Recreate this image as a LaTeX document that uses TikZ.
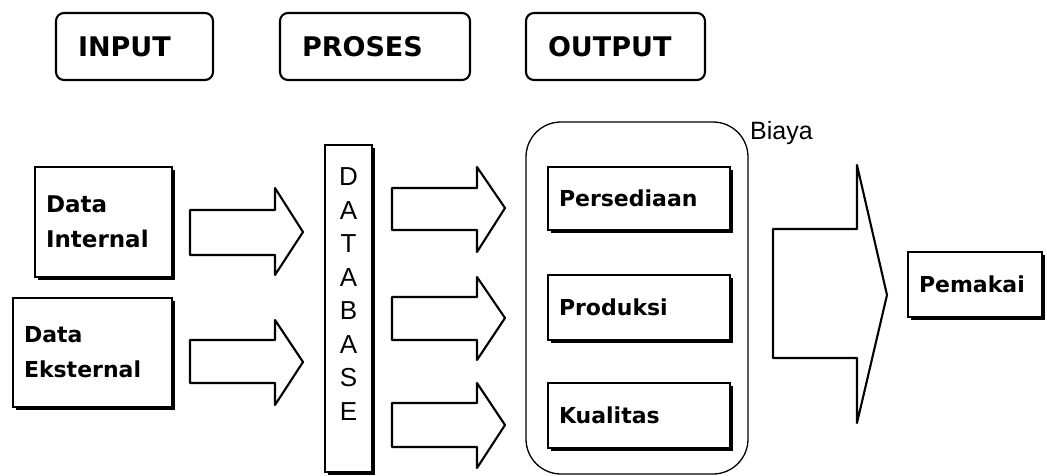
\documentclass[tikz,border=0pt]{standalone}
\usepackage{fontspec}
\setmainfont{DejaVu Sans}
\newfontfamily\arialf{Liberation Sans}
\begin{document}
\begin{tikzpicture}[x=1pt,y=-1pt,
  topbox/.style={draw, line width=2.1pt, rounded corners=8pt, minimum height=67pt,
    inner xsep=22pt, align=left, font=\bfseries\fontsize{27}{30}\selectfont},
  shbox/.style={draw, fill=white, line width=2.1pt, inner xsep=11pt, align=left,
    preaction={fill=black, transform canvas={shift={(3pt,-3pt)}}},
    font=\bfseries\fontsize{22}{35}\selectfont},
  blk/.style={draw, line width=2.1pt, line join=round, fill=white},
  cont/.style={draw, line width=1.3pt, rounded corners=35pt}
]
\useasboundingbox (0,0) rectangle (1047,476);

% top labels
\node[topbox, text width=113pt] (input) at (134.5,46.5) {INPUT};
\node[topbox, text width=146pt] (proses) at (375,46.5) {PROSES};
\node[topbox, text width=135pt] (output) at (615.5,46.5) {OUTPUT};

% input boxes
\node[shbox, minimum width=137pt, minimum height=110pt, text width=115pt,
  font=\bfseries\fontsize{23}{35}\selectfont] (din) at (103.5,222) {Data\\Internal};
\node[shbox, minimum width=159pt, minimum height=109pt, text width=137pt,
  font=\bfseries\fontsize{22}{35}\selectfont] (dek) at (92.5,352.5) {Data\\Eksternal};

% database
\node[shbox, minimum width=47pt, minimum height=327pt] (db) at (348.5,308.5) {};
\node[inner sep=0pt, align=center, font=\arialf\fontsize{26}{33.5}\selectfont]
  (dbtext) at (348.5,294) {D\\A\\T\\A\\B\\A\\S\\E};

% output container
\draw[cont] (526,122) rectangle (748,474);
\node[anchor=base west, inner sep=0pt, font=\arialf\fontsize{25}{30}\selectfont]
  (biaya) at (750,140) {Biaya};

% output boxes
\node[shbox, minimum width=182pt, minimum height=63pt, text width=160pt] (pers) at (639,198.5) {Persediaan};
\node[shbox, minimum width=182pt, minimum height=65pt, text width=160pt] (prod) at (639,307.5) {Produksi};
\node[shbox, minimum width=182pt, minimum height=65pt, text width=160pt] (kual) at (639,415.5) {Kualitas};

% user
\node[shbox, minimum width=134pt, minimum height=65pt, text width=112pt] (pem) at (975,284.5) {Pemakai};

% block arrows
\draw[blk] (190,210)--(275,210)--(275,188)--(303,232)--(275,275)--(275,255)--(190,255)--cycle;
\draw[blk] (190,340)--(275,340)--(275,320)--(303,362)--(275,405)--(275,383)--(190,383)--cycle;
\draw[blk] (392,188)--(477,188)--(477,167)--(505,208)--(477,252)--(477,230)--(392,230)--cycle;
\draw[blk] (392,297)--(477,297)--(477,277)--(505,318)--(477,360)--(477,340)--(392,340)--cycle;
\draw[blk] (392,403)--(477,403)--(477,383)--(505,425)--(477,468)--(477,447)--(392,447)--cycle;
\draw[blk] (773,229)--(857,229)--(857,165)--(887,295)--(857,423)--(857,358)--(773,358)--cycle;
\end{tikzpicture}
\end{document}
